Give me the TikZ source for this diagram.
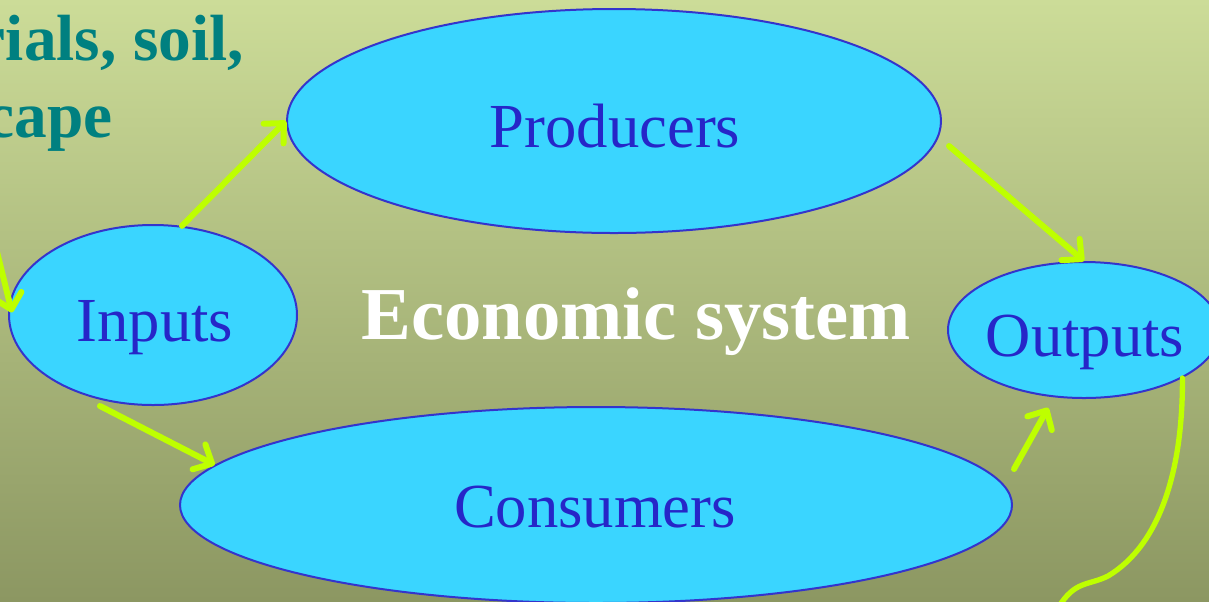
\documentclass[tikz,border=0pt]{standalone}
\usepackage{fontspec}
\setmainfont{Liberation Serif}
\usetikzlibrary{arrows.meta,shapes.geometric}

\definecolor{bgtop}{RGB}{204,220,152}
\definecolor{bgmid}{RGB}{180,194,133}
\definecolor{bgbot}{RGB}{140,151,98}
\definecolor{bubble}{RGB}{58,213,255}
\definecolor{rim}{RGB}{52,52,204}
\definecolor{ink}{RGB}{38,38,200}
\definecolor{lime}{RGB}{190,255,0}
\definecolor{teal}{RGB}{0,128,128}

\tikzset{
  bubblebox/.style={ellipse, draw=rim, line width=1.5pt, fill=bubble, inner sep=0pt},
  label/.style={text=ink, font=\fontsize{47}{56}\selectfont, anchor=base, inner sep=0pt},
  heading/.style={text=teal, font=\fontsize{49}{58}\selectfont\bfseries, anchor=base east, inner sep=0pt},
  flow/.style={draw=lime, line width=4.5pt, line cap=round,
    -{Straight Barb[length=11pt,width=21pt,line cap=round,line join=round]}},
  wire/.style={draw=lime, line width=4pt, line cap=round},
}

\begin{document}
\begin{tikzpicture}[x=0.75pt,y=-0.75pt]
  % frame and background
  \useasboundingbox (0,0) rectangle (1209,601);
  \clip (0,0) rectangle (1209,601);
  \shade[top color=bgtop, middle color=bgmid, bottom color=bgbot] (0,0) rectangle (1209,601);

  % heading lines running in from the left edge
  \node[heading] (raw) at (244,60) {rials, soil,};
  \node[heading] (land) at (113,137) {cape};

  % the four parts of the system
  \node[bubblebox, minimum width=490.5pt, minimum height=168pt] (prod) at (614,121) {};
  \node[bubblebox, minimum width=216pt, minimum height=135pt] (inp) at (153,315) {};
  \node[bubblebox, minimum width=624pt, minimum height=147pt] (cons) at (596,505) {};
  \node[bubblebox, minimum width=204pt, minimum height=102pt] (outp) at (1084,330) {};

  \node[label] (prodtxt) at (615,147) {Producers};
  \node[label] (inptxt) at (155,341) {Inputs};
  \node[label] (constxt) at (595,527) {Consumers};
  \node[label] (outptxt) at (1085,356) {Outputs};
  \node[text=white, font=\fontsize{56}{66}\selectfont\bfseries, anchor=base, inner sep=0pt]
    (econ) at (636,339) {Economic system};

  % flows between the parts
  \coordinate (feed) at (-3,252);
  \coordinate (away) at (1058,608);
  \draw[flow] (feed) -- ([xshift=3pt]inp.179);
  \draw[flow] (inp.72) -- (prod.180);
  \draw[flow] ([shift={(7,25)}]prod.east) -- (outp.90);
  \draw[flow] ([shift={(-53,0)}]inp.south) -- (cons.174);
  \draw[flow, shorten >=9pt] ([shift={(1,-36)}]cons.east) -- (outp.-114);
  \draw[wire] (outp.-26) .. controls (1183,470) and (1160,545) .. (1108,576)
              .. controls (1088,586) and (1075,580) .. (away);
\end{tikzpicture}
\end{document}
